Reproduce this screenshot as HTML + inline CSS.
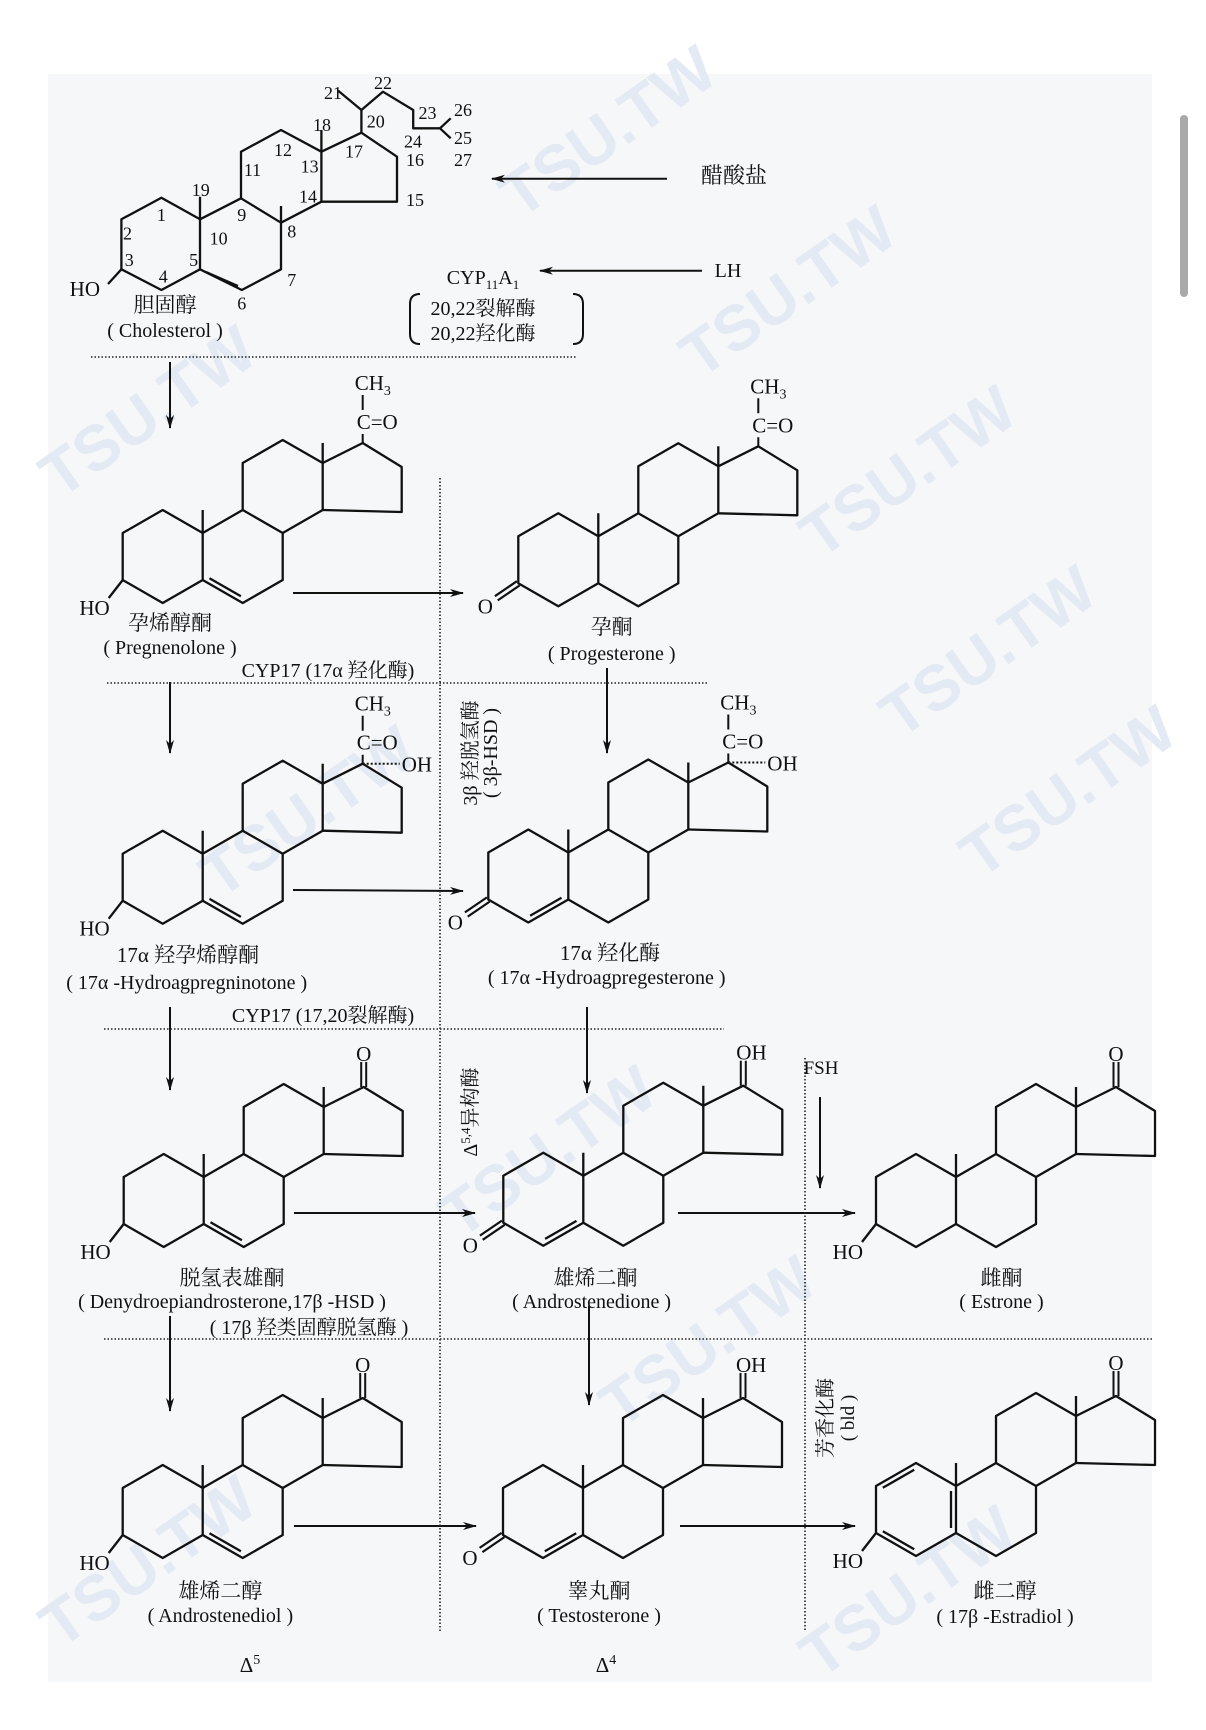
<!DOCTYPE html>
<html><head><meta charset="utf-8"><style>
html,body{margin:0;padding:0;background:#fff;}
svg{display:block;}
text{font-family:"Liberation Serif","Noto Serif CJK SC",serif;fill:#111;}
text.wm{font-family:"Liberation Sans",sans-serif;font-weight:bold;font-size:64px;fill:#e3eaf3;}
</style></head><body>
<svg width="1206" height="1730" viewBox="0 0 1206 1730" xmlns="http://www.w3.org/2000/svg">
<defs>
<marker id="ah" markerWidth="14" markerHeight="10" refX="13" refY="4" orient="auto" markerUnits="userSpaceOnUse">
<path d="M0,0 L14,4 L0,8 L4,4 Z" fill="#111"/></marker>
<g id="sk" fill="none" stroke="#111" stroke-width="2.3" stroke-linejoin="round">
<path d="M0,0 L0,-47 L40,-70 L80,-47 L80,0 L40,23 Z"/>
<path d="M80,-47 L120,-70 L160,-47 L160,0 L120,23 L80,0"/>
<path d="M120,-70 L120,-117 L160,-140 L200,-117 L200,-70 L160,-47"/>
<path d="M200,-117 L240,-137 L279,-113 L279,-68 L200,-70"/>
<path d="M80,-47 L80,-70 M200,-117 L200,-137"/>
</g>
<g id="d5" stroke="#111" stroke-width="2.3"><path d="M86.8,-1.8 L118.2,16.2"/></g>
<g id="d4" stroke="#111" stroke-width="2.3"><path d="M41.8,16.2 L73.2,-1.8"/></g>
<g id="ho"><path d="M0,0 L-14,18" stroke="#111" stroke-width="2.3"/><text x="-13" y="35" font-size="21" text-anchor="end">HO</text></g>
<g id="keto3"><path d="M1.4,2.1 L-20.6,17.1 M-1.4,-2.1 L-23.4,12.9" stroke="#111" stroke-width="2.2"/><text x="-33" y="30" font-size="21" text-anchor="middle">O</text></g>
<g id="preg"><path d="M240,-137 L240,-146 M240,-170 L240,-185" stroke="#111" stroke-width="2"/>
<text x="234" y="-151" font-size="21">C=O</text><text x="232" y="-190" font-size="21">CH<tspan font-size="14" dy="5">3</tspan></text></g>
<g id="k17"><path d="M237.5,-137 L237.5,-162 M242.5,-137 L242.5,-162" stroke="#111" stroke-width="2"/></g>
</defs>

<!-- background -->
<rect x="48" y="74" width="1104" height="1608" fill="#f6f7f9"/>
<g>
<text class="wm" x="520" y="220" transform="rotate(-35 520 220)">TSU.TW</text>
<text class="wm" x="700" y="380" transform="rotate(-35 700 380)">TSU.TW</text>
<text class="wm" x="820" y="560" transform="rotate(-35 820 560)">TSU.TW</text>
<text class="wm" x="900" y="740" transform="rotate(-35 900 740)">TSU.TW</text>
<text class="wm" x="980" y="880" transform="rotate(-35 980 880)">TSU.TW</text>
<text class="wm" x="60" y="500" transform="rotate(-35 60 500)">TSU.TW</text>
<text class="wm" x="220" y="900" transform="rotate(-35 220 900)">TSU.TW</text>
<text class="wm" x="460" y="1240" transform="rotate(-35 460 1240)">TSU.TW</text>
<text class="wm" x="620" y="1430" transform="rotate(-35 620 1430)">TSU.TW</text>
<text class="wm" x="60" y="1650" transform="rotate(-35 60 1650)">TSU.TW</text>
<text class="wm" x="820" y="1680" transform="rotate(-35 820 1680)">TSU.TW</text>
</g>
<rect x="1180" y="115" width="8" height="182" rx="4" fill="#a9a9a9"/>

<!-- Cholesterol -->
<g fill="none" stroke="#111" stroke-width="2.3" stroke-linejoin="round">
<path d="M121.4,269.3 L121.4,219.3 L161.4,197.7 L200,219.3 L200,269.3 L161.4,290 Z"/>
<path d="M200,219.3 L241,198.3 L281,222.7 L281,269.3 L241.8,290 L200,269.3"/>
<path d="M241,198.3 L241,151.7 L281,130 L321.4,151.7 L321.4,201.7 L281,222.7"/>
<path d="M321.4,151.7 L361.4,132.7 L397,156.7 L397,201.7 L321.4,201.7"/>
<path d="M200,219.3 L200,196.7 M281,222.7 L281,206 M321.4,151.7 L321.4,130"/>
<path d="M206,272 L238,286"/>
<path d="M361.4,132.7 L361.4,110 L338.2,90.7 M361.4,110 L382.9,91.7 L413.2,110 L413.2,128.3 L440,128.3 L450.7,118.3 M440,128.3 L450.7,138.3"/>
<path d="M121.4,269.3 L108,284"/>
</g>
<g font-size="18" text-anchor="middle" dominant-baseline="central">
<text x="333" y="93">21</text><text x="383" y="83">22</text><text x="427.5" y="113">23</text><text x="463" y="110">26</text>
<text x="322" y="125">18</text><text x="375.7" y="121.7">20</text><text x="463" y="138">25</text><text x="413" y="141.7">24</text>
<text x="354" y="151.7">17</text><text x="283" y="150">12</text><text x="415" y="160">16</text><text x="463" y="160">27</text>
<text x="252.5" y="170">11</text><text x="309.6" y="166.7">13</text><text x="200.7" y="190">19</text><text x="308" y="196.7">14</text>
<text x="415" y="200">15</text><text x="161.4" y="215">1</text><text x="241.8" y="215">9</text><text x="127.5" y="233.3">2</text>
<text x="218.6" y="238.3">10</text><text x="291.8" y="231.7">8</text><text x="129.3" y="260">3</text><text x="193.6" y="260">5</text>
<text x="291.8" y="280">7</text><text x="163.2" y="276.7">4</text><text x="241.8" y="303.3">6</text>
</g>
<text x="100" y="296" font-size="21" text-anchor="end">HO</text>
<text x="165" y="312" font-size="21" text-anchor="middle">胆固醇</text>
<text x="165" y="337" font-size="20" text-anchor="middle">( Cholesterol )</text>

<text x="734" y="183" font-size="22" text-anchor="middle">醋酸盐</text>
<text x="728" y="277" font-size="20" text-anchor="middle">LH</text>
<text x="483" y="284" font-size="20" text-anchor="middle">CYP<tspan font-size="13" dy="5">11</tspan><tspan dy="-5">A</tspan><tspan font-size="13" dy="5">1</tspan></text>
<text x="483" y="315" font-size="20" text-anchor="middle">20,22裂解酶</text>
<text x="483" y="340" font-size="20" text-anchor="middle">20,22羟化酶</text>
<path d="M420,294 Q410,294 410,304 L410,334 Q410,344 420,344 M573,294 Q583,294 583,304 L583,334 Q583,344 573,344" fill="none" stroke="#111" stroke-width="2"/>

<!-- arrows -->
<g stroke="#111" stroke-width="2" fill="none" marker-end="url(#ah)">
<path d="M667,178.7 L492,178.7"/>
<path d="M702,270.7 L540,270.7"/>
<path d="M170,362 L170,428"/>
<path d="M293,593 L463,593"/>
<path d="M170,682 L170,753"/>
<path d="M607,668 L607,753"/>
<path d="M293,890 L463,891"/>
<path d="M170,1007 L170,1090"/>
<path d="M587,1007 L587,1093"/>
<path d="M294,1213 L475,1213"/>
<path d="M678,1213 L855,1213"/>
<path d="M820,1097 L820,1188"/>
<path d="M170,1316 L170,1411"/>
<path d="M589,1306 L589,1405"/>
<path d="M294,1526 L476,1526"/>
<path d="M680,1526 L855,1526"/>
</g>

<!-- dotted lines -->
<g stroke="#222" stroke-width="1.6" stroke-dasharray="1.5,2" fill="none">
<path d="M91,357 L576,357"/>
<path d="M107,683 L707,683"/>
<path d="M104,1029 L724,1029"/>
<path d="M104,1339 L1152,1339"/>
<path d="M440,478 L440,1631"/>
<path d="M805,1058 L805,1631"/>
</g>

<!-- Row 1 -->
<g transform="translate(122.7,580)"><use href="#sk"/><use href="#d5"/><use href="#ho"/><use href="#preg"/></g>
<text x="170" y="630" font-size="21" text-anchor="middle">孕烯醇酮</text>
<text x="170" y="654" font-size="20" text-anchor="middle">( Pregnenolone )</text>
<g transform="translate(518.3,583.3)"><use href="#sk"/><use href="#keto3"/><use href="#preg"/></g>
<text x="611.7" y="634" font-size="21" text-anchor="middle">孕酮</text>
<text x="611.7" y="660" font-size="20" text-anchor="middle">( Progesterone )</text>
<text x="328" y="677" font-size="20" text-anchor="middle">CYP17 (17α 羟化酶)</text>

<!-- vertical labels -->
<text transform="translate(477,753) rotate(-90)" font-size="20" text-anchor="middle">3β 羟脱氢酶</text>
<text transform="translate(497,753) rotate(-90)" font-size="20" text-anchor="middle">( 3β-HSD )</text>
<text transform="translate(477,1112) rotate(-90)" font-size="20" text-anchor="middle">Δ<tspan font-size="13" dy="-7">5,4</tspan><tspan dy="7">异构酶</tspan></text>
<text x="821" y="1074" font-size="19" text-anchor="middle">FSH</text>
<text transform="translate(832,1418) rotate(-90)" font-size="20" text-anchor="middle">芳香化酶</text>
<text transform="translate(854,1418) rotate(-90)" font-size="19" text-anchor="middle">( bld )</text>

<!-- Row 2 -->
<g transform="translate(122.7,900.7)"><use href="#sk"/><use href="#d5"/><use href="#ho"/><use href="#preg"/>
<path d="M240,-137 L277,-137" stroke="#111" stroke-width="2" stroke-dasharray="2,2"/><text x="279" y="-129" font-size="21">OH</text></g>
<text x="188" y="962" font-size="21" text-anchor="middle">17α 羟孕烯醇酮</text>
<text x="186.7" y="989" font-size="20" text-anchor="middle">( 17α -Hydroagpregninotone )</text>
<g transform="translate(488.3,899.5)"><use href="#sk"/><use href="#d4"/><use href="#keto3"/><use href="#preg"/>
<path d="M240,-137 L277,-137" stroke="#111" stroke-width="2" stroke-dasharray="2,2"/><text x="279" y="-129" font-size="21">OH</text></g>
<text x="610" y="960" font-size="21" text-anchor="middle">17α 羟化酶</text>
<text x="606.7" y="984" font-size="20" text-anchor="middle">( 17α -Hydroagpregesterone )</text>
<text x="323" y="1022" font-size="20" text-anchor="middle">CYP17 (17,20裂解酶)</text>

<!-- Row 3 -->
<g transform="translate(123.7,1224)"><use href="#sk"/><use href="#d5"/><use href="#ho"/><use href="#k17"/><text x="240" y="-163" font-size="21" text-anchor="middle">O</text></g>
<text x="232" y="1285" font-size="21" text-anchor="middle">脱氢表雄酮</text>
<text x="232" y="1308" font-size="20" text-anchor="middle">( Denydroepiandrosterone,17β -HSD )</text>
<text x="309" y="1334" font-size="20" text-anchor="middle">( 17β 羟类固醇脱氢酶 )</text>
<g transform="translate(503.3,1222.7)"><use href="#sk"/><use href="#d4"/><use href="#keto3"/><use href="#k17"/><text x="233" y="-163" font-size="21">OH</text></g>
<text x="595.5" y="1285" font-size="21" text-anchor="middle">雄烯二酮</text>
<text x="591.6" y="1308" font-size="20" text-anchor="middle">( Androstenedione )</text>
<g transform="translate(876,1224)"><use href="#sk"/><use href="#ho"/><use href="#k17"/><text x="240" y="-163" font-size="21" text-anchor="middle">O</text></g>
<text x="1001.5" y="1285" font-size="21" text-anchor="middle">雌酮</text>
<text x="1001.5" y="1308" font-size="20" text-anchor="middle">( Estrone )</text>

<!-- Row 4 -->
<g transform="translate(122.7,1535)"><use href="#sk"/><use href="#d5"/><use href="#ho"/><use href="#k17"/><text x="240" y="-163" font-size="21" text-anchor="middle">O</text></g>
<text x="220.4" y="1598" font-size="21" text-anchor="middle">雄烯二醇</text>
<text x="220.4" y="1622" font-size="20" text-anchor="middle">( Androstenediol )</text>
<g transform="translate(503,1535)"><use href="#sk"/><use href="#d4"/><use href="#keto3"/><use href="#k17"/><text x="233" y="-163" font-size="21">OH</text></g>
<text x="599" y="1598" font-size="21" text-anchor="middle">睾丸酮</text>
<text x="599" y="1622" font-size="20" text-anchor="middle">( Testosterone )</text>
<g transform="translate(876,1533)"><use href="#sk"/><use href="#ho"/><use href="#k17"/><text x="240" y="-163" font-size="21" text-anchor="middle">O</text>
<path d="M6.8,-45.2 L38.2,-63.2 M6.8,-1.8 L38.2,16.2 M75,-5 L75,-42" stroke="#111" stroke-width="2.3"/></g>
<text x="1005" y="1598" font-size="21" text-anchor="middle">雌二醇</text>
<text x="1005" y="1623" font-size="20" text-anchor="middle">( 17β -Estradiol )</text>

<text x="250" y="1672" font-size="21" text-anchor="middle">Δ<tspan font-size="14" dy="-8">5</tspan></text>
<text x="606" y="1672" font-size="21" text-anchor="middle">Δ<tspan font-size="14" dy="-8">4</tspan></text>
</svg>
</body></html>
